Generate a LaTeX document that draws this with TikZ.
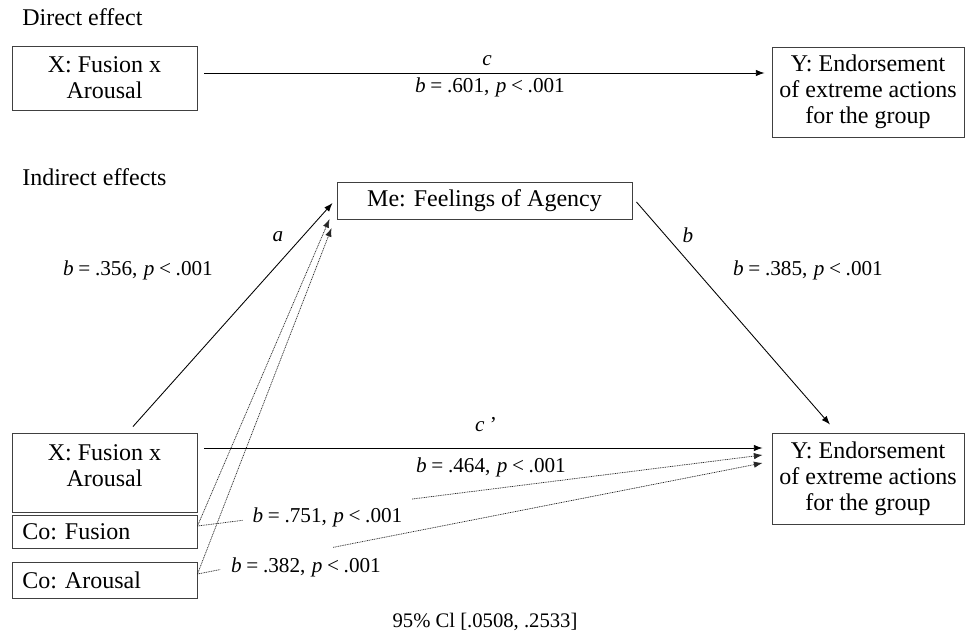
\documentclass[tikz,border=0pt]{standalone}
\usepackage{fontspec}
\setmainfont{Liberation Serif}
\usetikzlibrary{arrows.meta,calc}

% regression coefficient label: b = ..., p < ...
\newcommand\bpval[2]{\textit{b}\hspace{0.22em}=\hspace{0.22em}#1,\hspace{0.3em}\textit{p}\hspace{0.22em}<\hspace{0.22em}#2}

\begin{document}
\begin{tikzpicture}[x=0.75pt,y=-0.75pt,
  box/.style={draw=black!75,line width=0.7pt,inner sep=0pt},
  lbl/.style={font=\fontsize{18}{19.5}\selectfont,align=center,inner sep=0pt},
  eq/.style={font=\fontsize{15.9}{18}\selectfont,inner sep=0pt},
  note/.style={font=\fontsize{15.5}{18}\selectfont,inner sep=0pt},
  arr/.style={line width=0.65pt,-{Latex[length=6.5pt,width=4.8pt]}},
  dotline/.style={line width=0.55pt,black!85,dash pattern=on 0.7pt off 0.6pt},
  darr/.style={dotline,-{Latex[length=6.5pt,width=4.8pt]}}]
\useasboundingbox (0,0) rectangle (966,638);

% ---------- direct effect ----------
\node[lbl,anchor=west] (hdir) at (22,17) {Direct effect};
\node[box,lbl,minimum width=138.75pt,minimum height=48pt] (xt) at (104.5,78) {X: Fusion x\\Arousal};
\node[box,lbl,minimum width=144pt,minimum height=67.5pt] (yt) at (868,92) {Y: Endorsement\\of extreme actions\\for the group};

\coordinate (cS) at ([shift={(7,-5)}]xt.east);
\coordinate (cE) at ([shift={(-7,-19)}]yt.west);
\draw[arr] (cS) -- (cE);
\node[eq] (lc) at (487,61) {\textit{c}};
\node[eq] (lct) at (490,87) {\bpval{.601}{.001}};

% ---------- indirect effects ----------
\node[lbl,anchor=west] (hind) at (22,177) {Indirect effects};
\node[box,lbl,minimum width=221.25pt,minimum height=27.75pt] (me) at (484.5,200.5) {Me: Feelings of Agency};

\node[box,minimum width=138.75pt,minimum height=59.25pt] (xb) at (104.5,472.5) {};
\node[lbl] (xbt) at (104.5,466) {X: Fusion x\\Arousal};
\node[box,minimum width=138.75pt,minimum height=24.75pt] (cf) at (104.5,531.5) {};
\node[lbl,anchor=west] (cft) at (22,531.5) {Co: Fusion};
\node[box,minimum width=138.75pt,minimum height=27pt] (ca) at (104.5,580) {};
\node[lbl,anchor=west] (cat) at (22,580) {Co: Arousal};
\node[box,lbl,minimum width=144pt,minimum height=68.25pt] (yb) at (868,478.5) {Y: Endorsement\\of extreme actions\\for the group};

% path a
\coordinate (aS) at ([shift={(28.5,-6)}]xb.north);
\coordinate (aE) at ([shift={(-4,2.5)}]me.west);
\draw[arr] (aS) -- (aE);
\node[eq] (la) at (278,237) {\textit{a}};
\node[eq] (lat) at (138,270) {\bpval{.356}{.001}};

% path b
\coordinate (bS) at ([shift={(4,1.5)}]me.east);
\coordinate (bE) at ([shift={(-38,-8)}]yb.north);
\draw[arr] (bS) -- (bE);
\node[eq] (lb) at (688,235) {\textit{b}};
\node[eq] (lbt) at (808,270) {\bpval{.385}{.001}};

% path c'
\coordinate (dS) at ([shift={(7,-24.5)}]xb.east);
\coordinate (dE) at ([shift={(-9,-30.5)}]yb.west);
\draw[arr] (dS) -- (dE);
\node[eq] (ld) at (486,425) {\textit{c}\hspace{0.25em}’};
\node[eq] (ldt) at (491,467) {\bpval{.464}{.001}};

% covariates to mediator
\coordinate (fS) at ([shift={(0,-5.5)}]cf.east);
\coordinate (gS) at ([shift={(0,-6)}]ca.east);
\draw[darr] (fS) -- ([shift={(-7,18.5)}]me.west);
\draw[darr] (gS) -- ([shift={(-5,27.5)}]me.west);

% covariates to outcome (interrupted by their labels)
\coordinate (fE) at ([shift={(-9,-23.5)}]yb.west);
\coordinate (gE) at ([shift={(-9,-15.5)}]yb.west);
\draw[dotline] (fS) -- ($(fS)!0.08!(fE)$);
\draw[darr] ($(fS)!0.38!(fE)$) -- (fE);
\draw[dotline] (gS) -- ($(gS)!0.04!(gE)$);
\draw[darr] ($(gS)!0.24!(gE)$) -- (gE);
\node[eq] (lf) at (327.5,517) {\bpval{.751}{.001}};
\node[eq] (lg) at (306,567) {\bpval{.382}{.001}};

\node[note] (ci) at (485,622) {95\% Cl [.0508, .2533]};
\end{tikzpicture}
\end{document}
